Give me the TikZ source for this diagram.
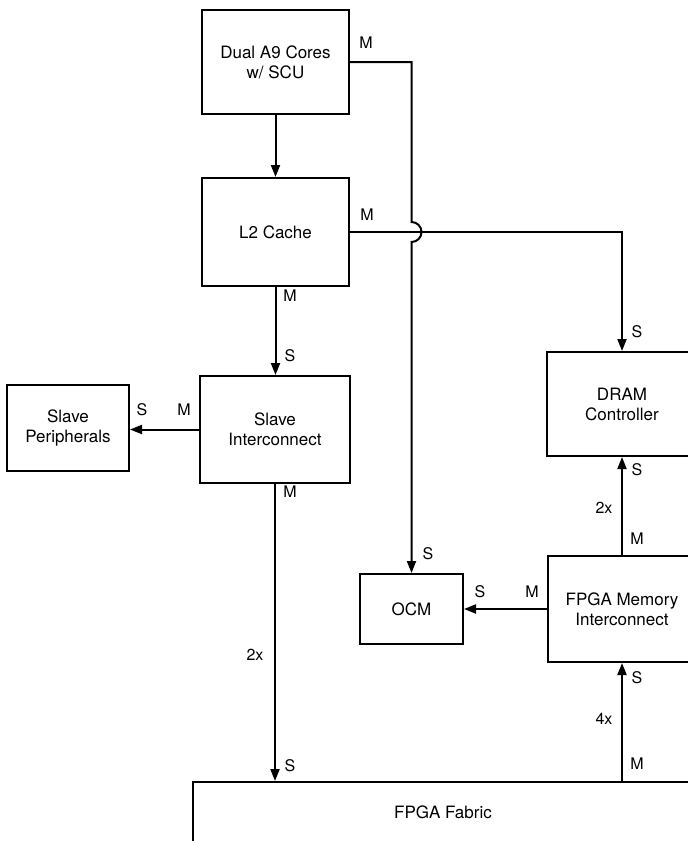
\documentclass[tikz,border=0pt]{standalone}
\usepackage{fontspec}
\setmainfont{TeX Gyre Heros}
\usetikzlibrary{arrows.meta}
\begin{document}
\begin{tikzpicture}[x=1pt,y=-1pt,
  box/.style={draw, line width=2pt, align=center, inner sep=0pt, font=\fontsize{17}{20}\selectfont},
  conn/.style={line width=2pt},
  arr/.style={conn, -{Triangle[length=12pt,width=9pt]}},
  lbl/.style={font=\fontsize{16}{18}\selectfont, inner sep=0pt}]
\useasboundingbox (0,0) rectangle (688,841);
\clip (0,0) rectangle (688,841);
% boxes
\node[box, minimum width=147pt, minimum height=104pt] (a9) at (275.5,62) {Dual A9 Cores\\w/ SCU};
\node[box, minimum width=147pt, minimum height=108pt] (l2) at (275.5,232) {L2 Cache};
\node[box, minimum width=150pt, minimum height=107pt] (si) at (275,429.5) {Slave\\Interconnect};
\node[box, minimum width=122pt, minimum height=86pt] (sp) at (68,428) {Slave\\Peripherals};
\node[box, minimum width=150pt, minimum height=104pt] (dram) at (622,404) {DRAM\\Controller};
\node[box, minimum width=103pt, minimum height=70pt] (ocm) at (411.5,609) {OCM};
\node[box, minimum width=148pt, minimum height=106pt] (fmi) at (622,609) {FPGA Memory\\Interconnect};
\node[box, minimum width=500pt, minimum height=60pt] (fab) at (443,812) {FPGA Fabric};
% connectors
\draw[arr] (a9.south) -- (a9.south |- l2.north);
\draw[arr] (l2.south) -- (l2.south |- si.north);
\draw[arr] (si.west) -- (si.west -| sp.east);
\coordinate (hop) at (ocm.north |- l2.east);
\draw[arr] (a9.east) -- (a9.east -| ocm.north) -- ([yshift=10pt]hop)
  arc[start angle=90, end angle=-90, radius=10pt] -- (ocm.north);
\draw[arr] (l2.east) -- (l2.east -| dram.north) -- (dram.north);
\draw[arr] (fmi.west) -- (fmi.west -| ocm.east);
\draw[arr] (fmi.north) -- (dram.south);
\draw[arr] (si.south) -- (si.south |- fab.north);
\draw[arr] (fmi.south |- fab.north) -- (fmi.south);
% labels
\node[lbl] (m1) at (366,43) {M};
\node[lbl] (m2) at (367,215) {M};
\node[lbl] (s1) at (637,332) {S};
\node[lbl] (m3) at (290,296) {M};
\node[lbl] (s2) at (290,356) {S};
\node[lbl] (m4) at (184,410) {M};
\node[lbl] (s3) at (142,410) {S};
\node[lbl] (m5) at (290,492) {M};
\node[lbl] (x1) at (255,655) {2x};
\node[lbl] (s4) at (290,766) {S};
\node[lbl] (s5) at (428,554) {S};
\node[lbl] (s6) at (480,592) {S};
\node[lbl] (m6) at (532,592) {M};
\node[lbl] (x2) at (604,508) {2x};
\node[lbl] (s7) at (637,470) {S};
\node[lbl] (m7) at (637,539) {M};
\node[lbl] (s8) at (637,678) {S};
\node[lbl] (x3) at (604,719) {4x};
\node[lbl] (m8) at (637,764) {M};
\end{tikzpicture}
\end{document}
